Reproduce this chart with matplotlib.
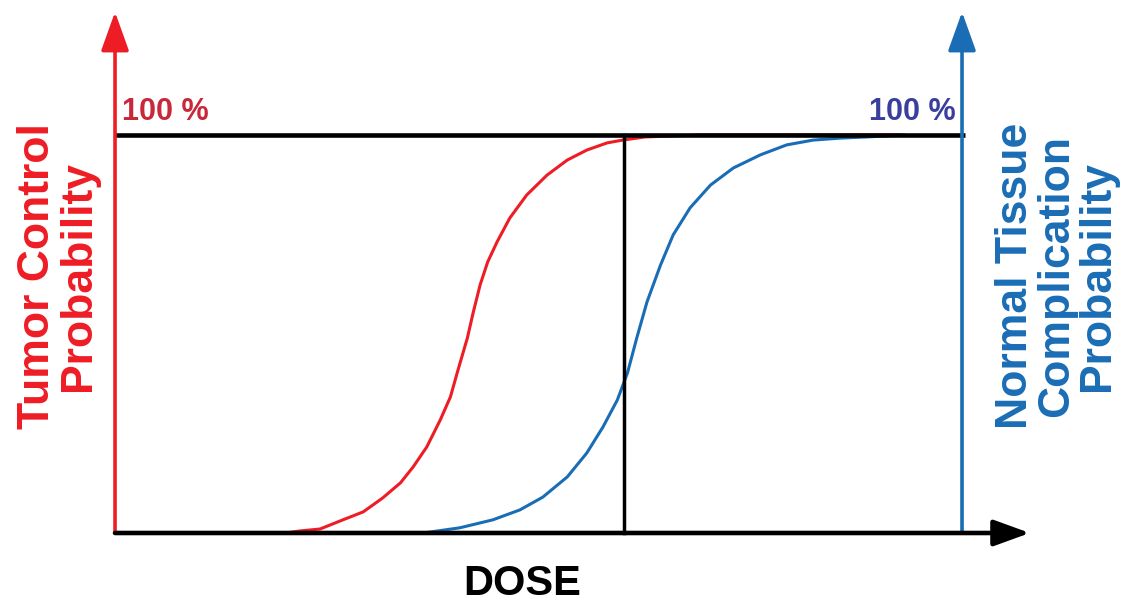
"""TCP / NTCP sigmoid sketch: tumour control vs normal tissue complication with dose."""

import matplotlib.pyplot as plt

# dose in arbitrary units (0 = vertical red axis, 10 = vertical blue axis)
tcp_dose = [2.01, 2.18, 2.42, 2.69, 2.93, 3.16, 3.37, 3.52, 3.68, 3.84, 3.96, 4.05,
            4.16, 4.23, 4.31, 4.40, 4.51, 4.66, 4.86, 5.10, 5.34, 5.57, 5.81, 5.99,
            6.26, 6.91, 9.27]
tcp_prob = [0.0, 0.005, 0.010, 0.033, 0.053, 0.088, 0.126, 0.166, 0.216, 0.284, 0.342,
            0.410, 0.490, 0.555, 0.623, 0.681, 0.731, 0.791, 0.849, 0.899, 0.937, 0.962,
            0.980, 0.987, 0.995, 1.0, 1.0]

ntcp_dose = [3.64, 4.07, 4.46, 4.78, 5.05, 5.34, 5.57, 5.76, 5.93, 6.05, 6.16, 6.28,
             6.44, 6.59, 6.79, 7.03, 7.30, 7.62, 7.93, 8.24, 8.56, 8.88, 9.33]
ntcp_prob = [0.0, 0.013, 0.033, 0.058, 0.090, 0.141, 0.201, 0.266, 0.334, 0.402, 0.490,
             0.580, 0.673, 0.749, 0.817, 0.874, 0.917, 0.950, 0.975, 0.987, 0.992, 0.995,
             1.0]

dose_marker = 6.01  # black vertical line
x_axis_end = 10.8

RED = "#ee1c25"
BLUE = "#1a6db5"


def arrow(ax, start, end, color, lw, head):
    ax.annotate("", xy=end, xytext=start,
                arrowprops=dict(arrowstyle=f"-|>,head_length={head[0]},head_width={head[1]}",
                                color=color, lw=lw, shrinkA=0, shrinkB=0,
                                mutation_scale=10))


def main():
    fig = plt.figure(figsize=(11.31, 6.04), dpi=100)
    ax = fig.add_axes([0, 0, 1, 1])
    ax.set_xlim(-1.358, 11.995)
    ax.set_ylim(-0.1784, 1.339)
    ax.axis("off")

    for d, p, c in [(tcp_dose, tcp_prob, RED), (ntcp_dose, ntcp_prob, BLUE)]:
        ax.plot(d, p, color=c, lw=2.2, zorder=2, solid_joinstyle="round",
                solid_capstyle="butt")

    # 100 % line and dose marker
    ax.plot([0, 10.04], [1, 1], color="black", lw=3.3, zorder=3, solid_capstyle="butt")
    ax.plot([dose_marker, dose_marker], [0, 1], color="black", lw=2.5, zorder=3)

    # axes as arrows
    arrow(ax, (0, 0), (0, 1.309), RED, 2.6, (2.4, 0.86))
    arrow(ax, (10, 0), (10, 1.309), BLUE, 2.6, (2.4, 0.86))
    arrow(ax, (0, 0), (x_axis_end, 0), "black", 3.3, (2.2, 0.8))

    font = ["Liberation Sans", "DejaVu Sans"]
    ax.text(0.08, 1.02, "100 %", color="#c8283a", fontsize=22, fontweight="bold",
            family=font, ha="left", va="bottom")
    ax.text(9.93, 1.02, "100 %", color="#3a3f9e", fontsize=22, fontweight="bold",
            family=font, ha="right", va="bottom")

    ax.text(-0.67, 0.645, "Tumor Control\nProbability", color=RED, fontsize=32,
            fontweight="bold", family=font, rotation=90, ha="center", va="center",
            multialignment="center", linespacing=1.0)
    ax.text(11.12, 0.645, "Normal Tissue\nComplication\nProbability", color=BLUE,
            fontsize=32, fontweight="bold", family=font, rotation=90,
            ha="center", va="center", multialignment="center", linespacing=1.0)
    ax.text(4.81, -0.127, "DOSE", color="black", fontsize=30, fontweight="bold",
            family=font, ha="center", va="center")

    fig.savefig("out.png", dpi=100, facecolor="white")


if __name__ == "__main__":
    main()
